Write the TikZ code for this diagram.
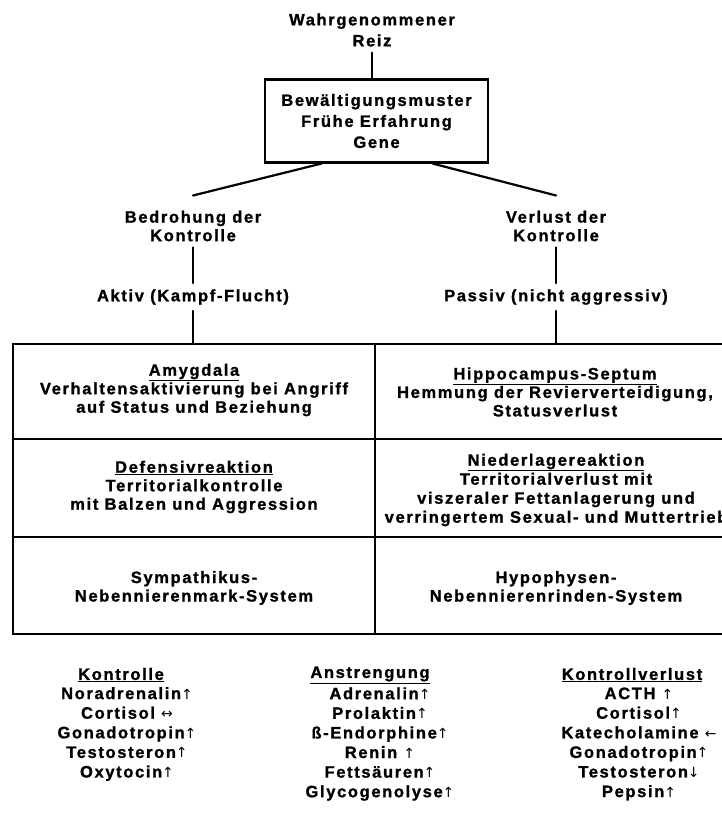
\documentclass[tikz,border=0pt]{standalone}
\usepackage{fontspec}
\newfontfamily\hv[LetterSpace=10, FakeBold=1.2]{Liberation Sans Bold}
\newfontfamily\arrf{DejaVu Sans}
\newcommand\myup{{\arrf\fontsize{14}{14}\selectfont ↑}}
\newcommand\mydown{{\arrf\fontsize{14}{14}\selectfont ↓}}
\newcommand\myleft{{\arrf\fontsize{14}{14}\selectfont ←}}
\newcommand\mylr{{\arrf\fontsize{14}{14}\selectfont ↔}}
\usetikzlibrary{calc}
\tikzset{
  txt/.style={font=\hv\fontsize{16.5}{18.5}\selectfont, align=center, inner sep=6pt},
  lst/.style={font=\hv\fontsize{16.5}{19.6}\selectfont, align=center, inner sep=0pt},
  ln/.style={line width=2.2pt, line cap=round},
  musterbox/.style={txt, font=\hv\fontsize{16.5}{21}\selectfont, draw, line width=2.2pt, minimum width=223pt, minimum height=83pt},
}
\begin{document}
\begin{tikzpicture}[x=1pt,y=-1pt]
\useasboundingbox (0,0) rectangle (722,827);
\clip (0,0) rectangle (722,827);
% top
\node[txt, font=\hv\fontsize{16.5}{21}\selectfont] (reiz) at (372,30) {Wahrgenommener\\Reiz};
\node[musterbox] (muster) at (376.5,121) {Bewältigungsmuster\\Frühe Erfahrung\\Gene};
\draw[ln] (reiz) -- (reiz |- muster.north);
% branches
\node[txt] (bedr) at (193,226) {Bedrohung der\\Kontrolle};
\node[txt] (verl) at (556,226) {Verlust der\\Kontrolle};
\coordinate (dl) at ($(muster.south west)!0.255!(muster.south east)$);
\coordinate (dr) at ($(muster.south west)!0.75!(muster.south east)$);
\coordinate (bl) at ($(bedr.north)+(0,-9)$);
\coordinate (vr) at ($(verl.north)+(0,-9)$);
\draw[ln] (dl) -- (bl);
\draw[ln] (dr) -- (vr);
\node[txt] (aktiv) at (193,297) {Aktiv (Kampf-Flucht)};
\node[txt] (passiv) at (556,297) {Passiv (nicht aggressiv)};
\draw[ln] (bedr) -- (aktiv);
\draw[ln] (verl) -- (passiv);
% table
\coordinate (tl) at (13,344);
\coordinate (br) at (737,634);
\coordinate (ml) at (375,344);
\coordinate (r1) at (13,439);
\coordinate (r2) at (13,537);
\draw[ln] (aktiv) -- (aktiv |- tl);
\draw[ln] (passiv) -- (passiv |- tl);
\draw[ln, line cap=butt] (tl) rectangle (br);
\draw[ln, line cap=butt] (ml) -- (ml |- br);
\draw[ln, line cap=butt] (r1) -- (r1 -| br);
\draw[ln, line cap=butt] (r2) -- (r2 -| br);
\node[txt] (amy) at (194,390) {\underline{Amygdala}\\Verhaltensaktivierung bei Angriff\\auf Status und Beziehung};
\node[txt] (def) at (194,487) {\underline{Defensivreaktion}\\Territorialkontrolle\\mit Balzen und Aggression};
\node[txt] (sym) at (194,588) {Sympathikus-\\Nebennierenmark-System};
\node[txt] (hip) at (555,392) {\underline{Hippocampus-Septum}\\Hemmung der Revierverteidigung,\\Statusverlust};
\node[txt, font=\hv\fontsize{16.5}{19}\selectfont] (nie) at (556,490) {\underline{Niederlagereaktion}\\Territorialverlust mit\\viszeraler Fettanlagerung und\\verringertem Sexual- und Muttertrieb};
\node[txt] (hyp) at (556,588) {Hypophysen-\\Nebennierenrinden-System};
% lists
\node[lst] (konh) at (121,675) {\underline{Kontrolle}};
\node[lst] (kon) at (127,734) {Noradrenalin\myup\\Cortisol \mylr\\Gonadotropin\myup\\Testosteron\myup\\Oxytocin\myup};
\node[lst] (ansh) at (370,675) {\underline{Anstrengung}};
\node[lst] (ans) at (380,744) {Adrenalin\myup\\Prolaktin\myup\\ß-Endorphine\myup\\Renin \myup\\Fettsäuren\myup\\Glycogenolyse\myup};
\node[lst] (kvlh) at (632,675) {\underline{Kontrollverlust}};
\node[lst] (kvl) at (639,744) {ACTH \myup\\Cortisol\myup\\Katecholamine \myleft\\Gonadotropin\myup\\Testosteron\mydown\\Pepsin\myup};
\end{tikzpicture}
\end{document}
